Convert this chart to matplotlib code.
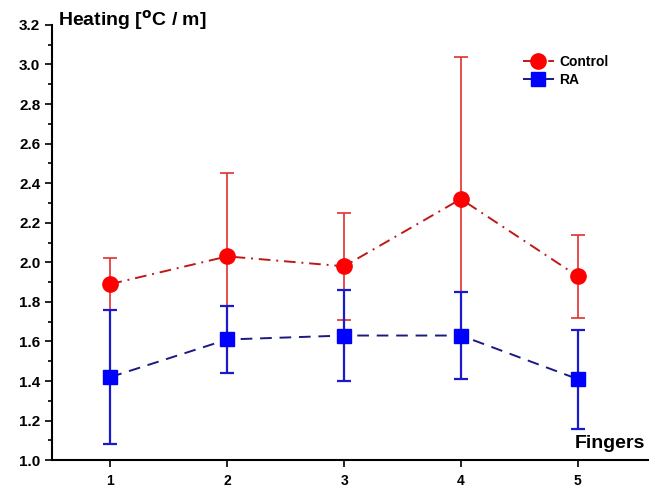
import matplotlib.pyplot as plt

plt.rcParams["font.family"] = ["Liberation Sans", "DejaVu Sans"]
plt.rcParams["font.weight"] = "bold"

fingers = [1, 2, 3, 4, 5]
control = [1.89, 2.03, 1.98, 2.32, 1.93]
control_err = [0.13, 0.42, 0.27, 0.72, 0.21]
ra = [1.42, 1.61, 1.63, 1.63, 1.41]
ra_err = [0.34, 0.17, 0.23, 0.22, 0.25]

fig = plt.figure(figsize=(6.59, 4.88), dpi=100)
ax = fig.add_axes([0.079, 0.057, 0.904, 0.892])

# error bars only, lines and markers drawn separately so the legend stays clean
ax.errorbar(fingers, control, yerr=control_err, fmt="none", ecolor="#e03030",
            elinewidth=1.2, capsize=5, capthick=1.2, zorder=2)
ax.errorbar(fingers, ra, yerr=ra_err, fmt="none", ecolor="#1a1acc",
            elinewidth=1.6, capsize=5, capthick=1.6, zorder=3)
ax.plot(fingers, control, color="#c01818", linestyle=(0, (6, 3, 1, 3)),
        linewidth=1.4, marker="o", markersize=11, markerfacecolor="#ff0000",
        markeredgecolor="#ff0000", label="Control", zorder=2.5)
ax.plot(fingers, ra, color="#1a1a80", linestyle=(0, (6, 4)),
        linewidth=1.4, marker="s", markersize=10, markerfacecolor="#0000ff",
        markeredgecolor="#0000ff", label="RA", zorder=3.5)

ax.set_xlim(0.5, 5.6)
ax.set_ylim(1.0, 3.2)
ax.set_xticks(fingers)
ax.set_yticks([1.0 + 0.2 * i for i in range(12)])
ax.set_yticks([1.1 + 0.2 * i for i in range(11)], minor=True)
ax.tick_params(axis="both", labelsize=11, width=1.2, length=5)
ax.tick_params(axis="y", which="minor", length=3, width=1.2)
ax.tick_params(axis="x", pad=5, labelsize=10)
ax.spines["top"].set_visible(False)
ax.spines["right"].set_visible(False)
ax.spines["left"].set_linewidth(1.5)
ax.spines["bottom"].set_linewidth(1.5)

fig.text(0.088, 0.947, "Heating [$^{\\mathrm{o}}$C / m]", fontsize=14, fontweight="bold",
         ha="left", va="baseline")
ax.text(5.58, 1.04, "Fingers", fontsize=14, fontweight="bold", ha="right", va="bottom")

ax.legend(loc="upper right", bbox_to_anchor=(0.955, 0.96), frameon=False,
          fontsize=10, handlelength=2.2, handletextpad=0.4,
          borderaxespad=0.5, labelspacing=0.3)

fig.savefig("out.png", dpi=100)
